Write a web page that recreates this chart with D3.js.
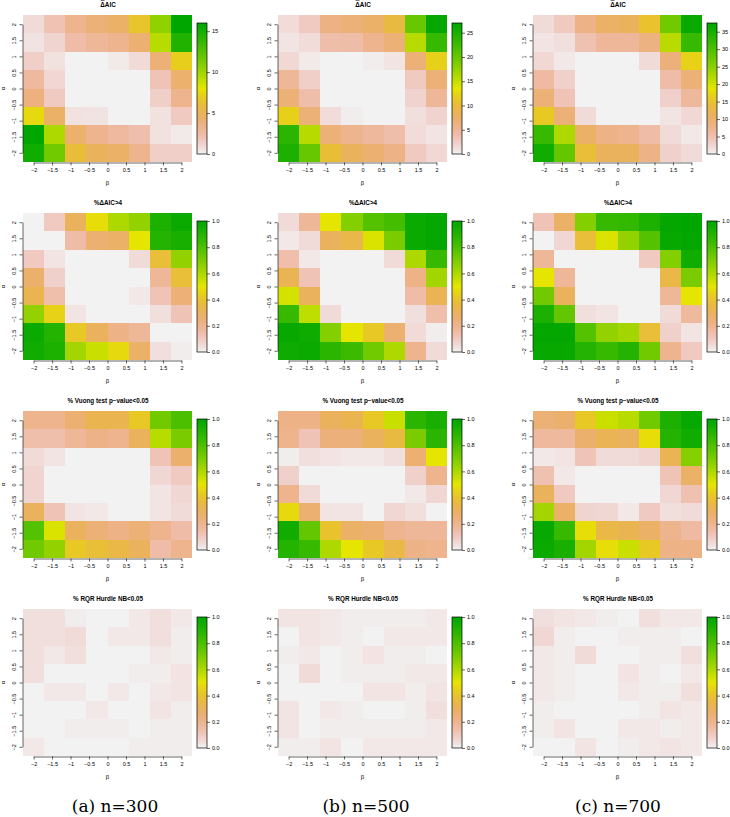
<!DOCTYPE html>
<html>
<head>
<meta charset="utf-8">
<script src="https://cdn.jsdelivr.net/npm/d3@7"></script>
<style>
  html, body { margin: 0; padding: 0; background: #ffffff; }
  svg { display: block; font-family: "Liberation Sans", Arial, sans-serif; }
</style>
</head>
<body>
<svg id="chart" width="730" height="817"></svg>
<script>
// ---------------- DATA ----------------
// grids: 8 rows (alpha from 2 down to -2) x 8 columns (beta from -2 to 2)
const tickValues = [-2, -1.5, -1, -0.5, 0, 0.5, 1, 1.5, 2];
const tickLabels = ["\u22122", "\u22121.5", "\u22121", "\u22120.5", "0", "0.5", "1", "1.5", "2"];
const nCells = 8;

const rowTitles = ["\u0394AIC", "%\u0394AIC>4", "% Vuong test p\u2212value<0.05", "% RQR Hurdle NB<0.05"];
const captions = ["(a) n=300", "(b) n=500", "(c) n=700"];
const colorMax = [[16, 27, 37.5], [1, 1, 1], [1, 1, 1], [1, 1, 1]];
const cbTicksAIC = [[0, 5, 10, 15], [0, 5, 10, 15, 20, 25], [0, 5, 10, 15, 20, 25, 30, 35]];
const cbTicksProp = [0, 0.2, 0.4, 0.6, 0.8, 1.0];

const dAIC300 = [
  [0.8, 2.0, 3.2, 4.0, 4.5, 6.5, 10.5, 16.0],
  [0.5, 1.1, 2.4, 2.9, 3.2, 4.2, 9.3, 14.5],
  [1.3, 0.6, 0.0, 0.0, 0.3, 0.8, 4.0, 7.0],
  [2.7, 1.0, 0.0, 0.0, 0.0, 0.0, 1.9, 4.3],
  [3.8, 1.6, 0.0, 0.0, 0.0, 0.0, 1.3, 3.2],
  [7.5, 4.5, 0.6, 0.5, 0.0, 0.0, 0.6, 1.6],
  [16.0, 9.6, 4.3, 3.2, 2.7, 2.2, 0.6, 0.3],
  [15.2, 11.5, 6.0, 4.8, 4.5, 3.2, 1.3, 1.3]
];
const dAIC500 = [
  [1.3, 2.7, 6.0, 6.7, 7.5, 9.7, 20.0, 26.5],
  [0.8, 1.3, 3.8, 4.0, 5.4, 6.7, 15.7, 23.0],
  [1.6, 0.5, 0.0, 0.0, 0.3, 0.8, 6.7, 12.0],
  [4.9, 2.2, 0.0, 0.0, 0.0, 0.0, 2.7, 6.7],
  [6.7, 3.8, 0.0, 0.0, 0.0, 0.0, 1.9, 4.9],
  [12.0, 6.7, 1.3, 0.3, 0.0, 0.0, 1.1, 1.9],
  [23.8, 15.7, 6.7, 5.4, 4.6, 3.8, 1.3, 0.8],
  [24.8, 20.0, 10.3, 8.1, 7.0, 5.9, 2.7, 1.6]
];
const dAIC700 = [
  [1.9, 3.8, 8.2, 10.5, 11.2, 15.0, 27.0, 36.4],
  [1.1, 1.5, 4.9, 6.7, 6.7, 8.6, 21.7, 31.9],
  [2.2, 0.8, 0.0, 0.0, 0.0, 1.9, 9.0, 16.9],
  [6.0, 3.0, 0.0, 0.0, 0.0, 0.0, 5.6, 9.4],
  [9.4, 4.5, 0.0, 0.0, 0.0, 0.0, 3.0, 6.4],
  [15.8, 9.4, 1.9, 0.0, 0.0, 0.0, 1.1, 2.2],
  [31.9, 22.5, 10.5, 8.2, 7.5, 5.6, 1.9, 0.8],
  [35.6, 28.0, 14.2, 11.2, 11.2, 8.2, 3.0, 1.9]
];
const pAIC300 = [
  [0.00, 0.10, 0.30, 0.48, 0.60, 0.65, 0.92, 0.97],
  [0.00, 0.00, 0.15, 0.26, 0.28, 0.50, 0.90, 0.93],
  [0.10, 0.03, 0.00, 0.00, 0.00, 0.05, 0.38, 0.65],
  [0.27, 0.08, 0.00, 0.00, 0.00, 0.00, 0.18, 0.38],
  [0.33, 0.14, 0.00, 0.00, 0.00, 0.02, 0.12, 0.25],
  [0.65, 0.45, 0.03, 0.00, 0.00, 0.00, 0.04, 0.12],
  [0.97, 0.90, 0.42, 0.30, 0.22, 0.18, 0.00, 0.00],
  [0.95, 0.92, 0.62, 0.55, 0.47, 0.28, 0.04, 0.01]
];
const pAIC500 = [
  [0.05, 0.18, 0.50, 0.68, 0.78, 0.82, 0.97, 0.99],
  [0.02, 0.05, 0.30, 0.34, 0.52, 0.70, 0.97, 0.99],
  [0.14, 0.02, 0.00, 0.00, 0.00, 0.05, 0.60, 0.85],
  [0.32, 0.12, 0.00, 0.00, 0.00, 0.00, 0.22, 0.62],
  [0.53, 0.30, 0.00, 0.00, 0.00, 0.00, 0.15, 0.32],
  [0.85, 0.57, 0.05, 0.00, 0.00, 0.00, 0.04, 0.14],
  [0.98, 0.96, 0.68, 0.50, 0.42, 0.26, 0.05, 0.01],
  [0.96, 0.97, 0.88, 0.84, 0.72, 0.60, 0.20, 0.05]
];
const pAIC700 = [
  [0.12, 0.28, 0.68, 0.85, 0.86, 0.92, 0.99, 1.00],
  [0.00, 0.06, 0.38, 0.52, 0.65, 0.78, 0.98, 0.99],
  [0.18, 0.00, 0.00, 0.00, 0.00, 0.10, 0.68, 0.95],
  [0.50, 0.18, 0.00, 0.00, 0.00, 0.00, 0.35, 0.70],
  [0.72, 0.30, 0.00, 0.00, 0.00, 0.00, 0.18, 0.50],
  [0.92, 0.75, 0.04, 0.03, 0.00, 0.00, 0.05, 0.17],
  [0.99, 0.99, 0.78, 0.65, 0.62, 0.38, 0.08, 0.03],
  [0.98, 0.98, 0.90, 0.85, 0.90, 0.72, 0.20, 0.10]
];
const vuong300 = [
  [0.20, 0.20, 0.26, 0.33, 0.33, 0.42, 0.72, 0.80],
  [0.14, 0.14, 0.18, 0.22, 0.20, 0.30, 0.58, 0.70],
  [0.05, 0.03, 0.00, 0.00, 0.00, 0.00, 0.12, 0.27],
  [0.07, 0.00, 0.00, 0.00, 0.00, 0.00, 0.06, 0.10],
  [0.07, 0.00, 0.00, 0.00, 0.00, 0.00, 0.03, 0.06],
  [0.30, 0.12, 0.03, 0.02, 0.00, 0.00, 0.03, 0.05],
  [0.78, 0.52, 0.30, 0.25, 0.22, 0.25, 0.20, 0.15],
  [0.72, 0.65, 0.42, 0.38, 0.35, 0.30, 0.15, 0.20]
];
const vuong500 = [
  [0.22, 0.22, 0.30, 0.33, 0.42, 0.55, 0.88, 0.93],
  [0.20, 0.12, 0.24, 0.24, 0.30, 0.36, 0.70, 0.88],
  [0.01, 0.04, 0.03, 0.02, 0.02, 0.04, 0.26, 0.50],
  [0.08, 0.00, 0.00, 0.00, 0.00, 0.00, 0.08, 0.20],
  [0.20, 0.05, 0.00, 0.00, 0.00, 0.00, 0.02, 0.06],
  [0.47, 0.26, 0.03, 0.03, 0.00, 0.06, 0.04, 0.00],
  [0.95, 0.75, 0.40, 0.28, 0.26, 0.20, 0.18, 0.18],
  [0.90, 0.85, 0.60, 0.50, 0.42, 0.35, 0.22, 0.20]
];
const vuong700 = [
  [0.25, 0.27, 0.42, 0.55, 0.58, 0.72, 0.92, 0.98],
  [0.17, 0.17, 0.27, 0.32, 0.30, 0.48, 0.90, 0.95],
  [0.02, 0.03, 0.12, 0.05, 0.05, 0.07, 0.32, 0.68],
  [0.13, 0.02, 0.00, 0.00, 0.00, 0.00, 0.12, 0.28],
  [0.30, 0.10, 0.00, 0.00, 0.00, 0.00, 0.06, 0.13],
  [0.62, 0.28, 0.07, 0.06, 0.02, 0.10, 0.04, 0.05],
  [0.98, 0.85, 0.48, 0.35, 0.33, 0.28, 0.20, 0.16],
  [0.97, 0.93, 0.62, 0.48, 0.55, 0.42, 0.22, 0.22]
];
const rqr300 = [
  [0.04, 0.04, 0.01, 0.00, 0.00, 0.02, 0.04, 0.02],
  [0.04, 0.04, 0.05, 0.00, 0.02, 0.02, 0.04, 0.01],
  [0.04, 0.02, 0.04, 0.00, 0.00, 0.00, 0.02, 0.01],
  [0.04, 0.00, 0.00, 0.00, 0.00, 0.01, 0.01, 0.03],
  [0.00, 0.02, 0.02, 0.00, 0.02, 0.00, 0.02, 0.03],
  [0.00, 0.00, 0.00, 0.02, 0.00, 0.00, 0.03, 0.01],
  [0.00, 0.00, 0.01, 0.01, 0.01, 0.00, 0.01, 0.01],
  [0.02, 0.00, 0.00, 0.00, 0.00, 0.01, 0.01, 0.01]
];
const rqr500 = [
  [0.03, 0.03, 0.02, 0.01, 0.01, 0.01, 0.01, 0.02],
  [0.00, 0.03, 0.02, 0.01, 0.00, 0.02, 0.02, 0.02],
  [0.01, 0.02, 0.00, 0.01, 0.03, 0.01, 0.01, 0.00],
  [0.00, 0.05, 0.00, 0.01, 0.01, 0.01, 0.02, 0.02],
  [0.00, 0.00, 0.00, 0.00, 0.03, 0.03, 0.01, 0.03],
  [0.03, 0.00, 0.02, 0.01, 0.00, 0.00, 0.01, 0.04],
  [0.03, 0.00, 0.01, 0.01, 0.01, 0.01, 0.01, 0.02],
  [0.01, 0.01, 0.03, 0.00, 0.02, 0.02, 0.02, 0.02]
];
const rqr700 = [
  [0.04, 0.03, 0.02, 0.01, 0.00, 0.04, 0.02, 0.02],
  [0.06, 0.01, 0.00, 0.00, 0.01, 0.01, 0.01, 0.00],
  [0.02, 0.01, 0.05, 0.00, 0.00, 0.01, 0.01, 0.04],
  [0.02, 0.01, 0.00, 0.00, 0.03, 0.01, 0.00, 0.02],
  [0.02, 0.01, 0.00, 0.00, 0.02, 0.01, 0.01, 0.04],
  [0.01, 0.00, 0.00, 0.00, 0.00, 0.01, 0.03, 0.02],
  [0.01, 0.03, 0.00, 0.00, 0.02, 0.02, 0.01, 0.02],
  [0.00, 0.00, 0.03, 0.00, 0.01, 0.02, 0.03, 0.02]
];
const panels = [
  [dAIC300, dAIC500, dAIC700],
  [pAIC300, pAIC500, pAIC700],
  [vuong300, vuong500, vuong700],
  [rqr300, rqr500, rqr700]
];

// ---------------- LAYOUT ----------------
const colX = [0, 255, 510];
const rowTop = [15, 213, 411, 609];
const hmLeft = 23, hmRight = 192, hmH = 147;
const cbLeft = 197, cbW = 10, cbInset = 8;
const fontTick = 5.5;

// R terrain.colors reversed (0 -> #F2F2F2, 1 -> #00A600)
function terrainRev(f) {
  f = Math.max(0, Math.min(1, f));
  let h, s, v;
  if (f <= 0.5) { h = f / 3 * 360; s = 2 * f; v = 0.95 - 0.1 * f; }
  else { const t = 1 - f; h = (1 / 3 - t / 3) * 360; s = 1; v = 0.65 + 0.5 * t; }
  const c = v * s, hp = h / 60, x = c * (1 - Math.abs(hp % 2 - 1)), m = v - c;
  let r = 0, g = 0, b = 0;
  if (hp < 1) { r = c; g = x; } else if (hp < 2) { r = x; g = c; } else if (hp < 3) { g = c; b = x; }
  else if (hp < 4) { g = x; b = c; } else if (hp < 5) { r = x; b = c; } else { r = c; b = x; }
  return d3.rgb(Math.round((r + m) * 255), Math.round((g + m) * 255), Math.round((b + m) * 255)).formatHex();
}

const svg = d3.select("#chart");
svg.append("rect").attr("width", 730).attr("height", 817).attr("fill", "#ffffff");

const defs = svg.append("defs");
const grad = defs.append("linearGradient").attr("id", "cbgrad")
  .attr("x1", 0).attr("y1", 1).attr("x2", 0).attr("y2", 0);
d3.range(0, 101).forEach(i => {
  grad.append("stop").attr("offset", (i / 100)).attr("stop-color", terrainRev(i / 100));
});

panels.forEach((rowPanels, r) => {
  rowPanels.forEach((grid, c) => {
    const ox = colX[c], top = rowTop[r], bottom = top + hmH;
    const g = svg.append("g").attr("transform", `translate(${ox},0)`);
    const cw = (hmRight - hmLeft) / nCells, ch = hmH / nCells;
    const x = d3.scaleLinear().domain([-2, 2]).range([hmLeft + cw / 2, hmRight - cw / 2]);
    const y = d3.scaleLinear().domain([-2, 2]).range([bottom - ch / 2, top + ch / 2]);
    const cellPos = d3.scaleLinear().domain([0, nCells - 1]).range([-2, 2]);
    const zmax = colorMax[r][c];
    const color = v => terrainRev(v / zmax);

    const cells = [];
    grid.forEach((row, i) => row.forEach((v, j) => cells.push({ a: cellPos(nCells - 1 - i), b: cellPos(j), v })));
    g.append("g").selectAll("rect").data(cells).join("rect")
      .attr("x", d => x(d.b) - cw / 2)
      .attr("y", d => y(d.a) - ch / 2)
      .attr("width", cw + 0.4)
      .attr("height", ch + 0.4)
      .attr("fill", d => color(d.v))
      .attr("shape-rendering", "crispEdges");

    // x axis
    const xAxis = d3.axisBottom(x).tickValues(tickValues).tickFormat((d, i) => tickLabels[i])
      .tickSize(3).tickSizeOuter(0).tickPadding(2.5);
    const gx = g.append("g").attr("transform", `translate(0,${bottom + 0.5})`).call(xAxis);
    gx.attr("font-family", null);
    gx.selectAll("text").attr("font-size", fontTick).attr("fill", "#000");
    gx.selectAll("path,line").attr("stroke", "#000").attr("stroke-width", 0.6);

    // y axis
    const yAxis = d3.axisLeft(y).tickValues(tickValues).tickFormat((d, i) => tickLabels[i])
      .tickSize(3).tickSizeOuter(0);
    const gy = g.append("g").attr("transform", `translate(${hmLeft - 0.5},0)`).call(yAxis);
    gy.attr("font-family", null);
    gy.selectAll("path,line").attr("stroke", "#000").attr("stroke-width", 0.6);
    gy.selectAll("text").attr("font-size", fontTick).attr("fill", "#000")
      .attr("text-anchor", "middle").attr("dy", null)
      .attr("x", 0).attr("y", 0)
      .attr("transform", "translate(-7,0) rotate(-90)");

    // axis titles
    g.append("text").attr("x", (hmLeft + hmRight) / 2).attr("y", bottom + 23)
      .attr("text-anchor", "middle").attr("font-size", 6).text("\u03b2");
    g.append("text").attr("transform", `translate(5,${(top + bottom) / 2}) rotate(-90)`)
      .attr("text-anchor", "middle").attr("font-size", 6).text("\u03b1");

    // title
    const tt = g.append("text").attr("x", 108).attr("y", top - 8.5)
      .attr("text-anchor", "middle").attr("font-size", 6.3).attr("font-weight", "bold")
      .text(rowTitles[r]);
    if (r === 0) {
      const node = tt.node();
      const sx = node.getStartPositionOfChar(0).x;
      const w = node.getSubStringLength(0, 1);
      g.append("line").attr("x1", sx + 0.3).attr("x2", sx + w - 0.3)
        .attr("y1", top - 14.6).attr("y2", top - 14.6)
        .attr("stroke", "#000").attr("stroke-width", 0.6);
    }

    // colorbar
    const cbTop = top + cbInset, cbBot = bottom - cbInset;
    g.append("rect").attr("x", cbLeft).attr("y", cbTop).attr("width", cbW).attr("height", cbBot - cbTop)
      .attr("fill", "url(#cbgrad)").attr("stroke", "#000").attr("stroke-width", 0.7);
    const cs = d3.scaleLinear().domain([0, zmax]).range([cbBot, cbTop]);
    const ticks = r === 0 ? cbTicksAIC[c] : cbTicksProp;
    const fmt = r === 0 ? d3.format("d") : d3.format(".1f");
    const cAxis = d3.axisRight(cs).tickValues(ticks).tickFormat(fmt).tickSize(3).tickSizeOuter(0).tickPadding(2);
    const gc = g.append("g").attr("transform", `translate(${cbLeft + cbW},0)`).call(cAxis);
    gc.attr("font-family", null);
    gc.select(".domain").remove();
    gc.selectAll("line").attr("stroke", "#000").attr("stroke-width", 0.6);
    gc.selectAll("text").attr("font-size", fontTick).attr("fill", "#000");
  });
});

// captions
const capX = [115, 366, 618];
captions.forEach((t, i) => {
  svg.append("text").attr("x", capX[i]).attr("y", 812).attr("text-anchor", "middle")
    .style("font-family", "'DejaVu Serif', 'Liberation Serif', serif")
    .style("font-size", "17px").text(t);
});
</script>
</body>
</html>
